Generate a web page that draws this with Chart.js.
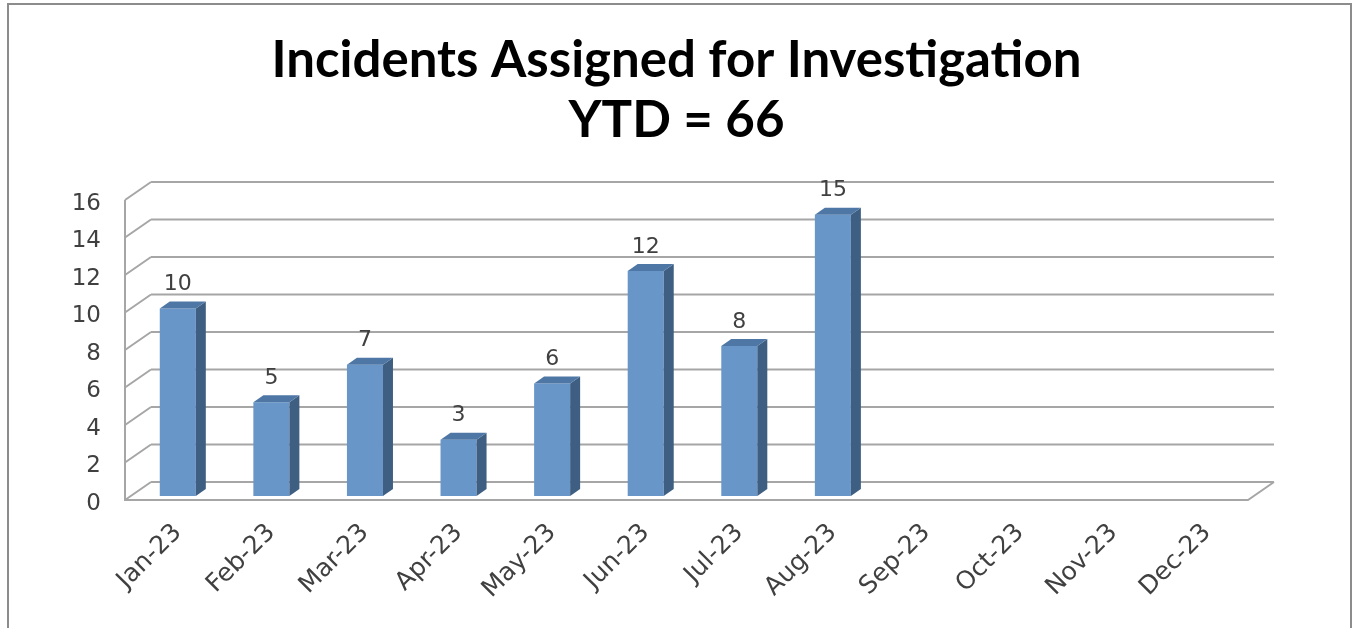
<!DOCTYPE html>
<html>
<head>
<meta charset="utf-8">
<script src="https://cdn.jsdelivr.net/npm/chart.js@4.4.0/dist/chart.umd.min.js"></script>
<style>
  html, body { margin: 0; padding: 0; background: #fff; overflow: hidden; }
  #wrap { position: absolute; left: 0; top: 0; width: 1353px; height: 628px; }
  #frame { position: absolute; left: 7px; top: 3px; width: 1341px; height: 700px;
           border: 2px solid #8c8c8c; pointer-events: none; }
</style>
</head>
<body>
<div id="wrap"><canvas id="chart"></canvas></div>
<div id="frame"></div>
<script>
// Data
const months = ['Jan-23', 'Feb-23', 'Mar-23', 'Apr-23', 'May-23', 'Jun-23',
                'Jul-23', 'Aug-23', 'Sep-23', 'Oct-23', 'Nov-23', 'Dec-23'];
const incidents = [10, 5, 7, 3, 6, 12, 8, 15, null, null, null, null];
const titleLines = ['Incidents Assigned for Investigation', 'YTD = 66'];
const yTicks = [0, 2, 4, 6, 8, 10, 12, 14, 16];

const TITLE_FONT = 'Lato, "DejaVu Sans", sans-serif';
const LABEL_FONT = '"DejaVu Sans", Lato, sans-serif';
const GRID = '#a6a6a6';
const TEXT = '#404040';

// 3D depth offsets relative to the bar plane
const BACK = { dx: 20, dy: -14 };
const FRONT = { dx: -6, dy: 4 };
const BAR_DEPTH = { dx: 10, dy: -7 };

// Back wall, side wall and floor drawn behind the bars
const wallPlugin = {
    id: 'wall',
    beforeDatasetsDraw(chart) {
        const { ctx, chartArea: a, scales: { y } } = chart;
        ctx.save();
        ctx.strokeStyle = GRID;
        ctx.lineWidth = 2;
        ctx.beginPath();
        yTicks.forEach(v => {
            const py = y.getPixelForValue(v);
            // back wall line
            ctx.moveTo(a.left + BACK.dx, py + BACK.dy);
            ctx.lineTo(a.right + BACK.dx, py + BACK.dy);
            // side wall diagonal
            ctx.moveTo(a.left + FRONT.dx, py + FRONT.dy);
            ctx.lineTo(a.left + BACK.dx, py + BACK.dy);
        });
        const y0 = y.getPixelForValue(0);
        const yTop = y.getPixelForValue(16);
        // front vertical edge of side wall
        ctx.moveTo(a.left + FRONT.dx, yTop + FRONT.dy);
        ctx.lineTo(a.left + FRONT.dx, y0 + FRONT.dy);
        // floor front edge and right diagonal
        ctx.lineTo(a.right + FRONT.dx, y0 + FRONT.dy);
        ctx.lineTo(a.right + BACK.dx, y0 + BACK.dy);
        ctx.stroke();
        ctx.restore();
    }
};

// Side and top faces of the bars plus value labels
const barFacePlugin = {
    id: 'barFaces',
    afterDatasetsDraw(chart) {
        const { ctx } = chart;
        const meta = chart.getDatasetMeta(0);
        ctx.save();
        meta.data.forEach((bar, i) => {
            if (incidents[i] == null) return;
            const { x, y, width, base } = bar.getProps(['x', 'y', 'width', 'base'], true);
            const l = x - width / 2, r = x + width / 2;
            const { dx, dy } = BAR_DEPTH;
            // side face
            ctx.fillStyle = '#3f5f82';
            ctx.beginPath();
            ctx.moveTo(r, y);
            ctx.lineTo(r + dx, y + dy);
            ctx.lineTo(r + dx, base + dy);
            ctx.lineTo(r, base);
            ctx.closePath();
            ctx.fill();
            // top face
            ctx.fillStyle = '#4e77a6';
            ctx.beginPath();
            ctx.moveTo(l, y);
            ctx.lineTo(l + dx, y + dy);
            ctx.lineTo(r + dx, y + dy);
            ctx.lineTo(r, y);
            ctx.closePath();
            ctx.fill();
            // value label
            ctx.fillStyle = TEXT;
            ctx.font = '22px ' + LABEL_FONT;
            ctx.textAlign = 'center';
            ctx.textBaseline = 'middle';
            ctx.fillText(String(incidents[i]), x, y - 24);
        });
        ctx.restore();
    }
};

const chart = new Chart(document.getElementById('chart'), {
    type: 'bar',
    data: {
        labels: months,
        datasets: [{
            data: incidents,
            backgroundColor: '#6996c9',
            borderWidth: 0,
            barPercentage: 0.385,
            categoryPercentage: 1
        }]
    },
    options: {
        responsive: true,
        maintainAspectRatio: false,
        animation: false,
        layout: { padding: 0 },
        plugins: {
            legend: { display: false },
            tooltip: { enabled: false },
            title: {
                display: true,
                text: titleLines,
                color: '#000',
                font: { family: TITLE_FONT, size: 51, weight: 'bold', lineHeight: 1.176 },
                padding: { top: 31, bottom: 45 }
            }
        },
        scales: {
            x: {
                grid: { display: false, drawTicks: false },
                border: { display: false },
                afterFit: s => { s.height = 132; },
                ticks: {
                    autoSkip: false,
                    maxRotation: 45,
                    minRotation: 45,
                    padding: 22,
                    color: TEXT,
                    font: { family: LABEL_FONT, size: 25 }
                }
            },
            y: {
                min: 0,
                max: 16,
                grid: { display: false, drawTicks: false },
                border: { display: false },
                afterFit: s => { s.width = 131; },
                afterBuildTicks: s => { s.ticks = yTicks.map(v => ({ value: v })); },
                ticks: {
                    padding: 30,
                    labelOffset: 8,
                    color: TEXT,
                    font: { family: LABEL_FONT, size: 23 }
                }
            },
            // empty right-hand axis that reserves the space right of the plot
            yRight: {
                position: 'right',
                min: 0,
                max: 16,
                grid: { display: false, drawTicks: false },
                border: { display: false },
                ticks: { display: false },
                afterFit: s => { s.width = 99; }
            }
        }
    },
    plugins: [wallPlugin, barFacePlugin]
});
</script>
</body>
</html>
